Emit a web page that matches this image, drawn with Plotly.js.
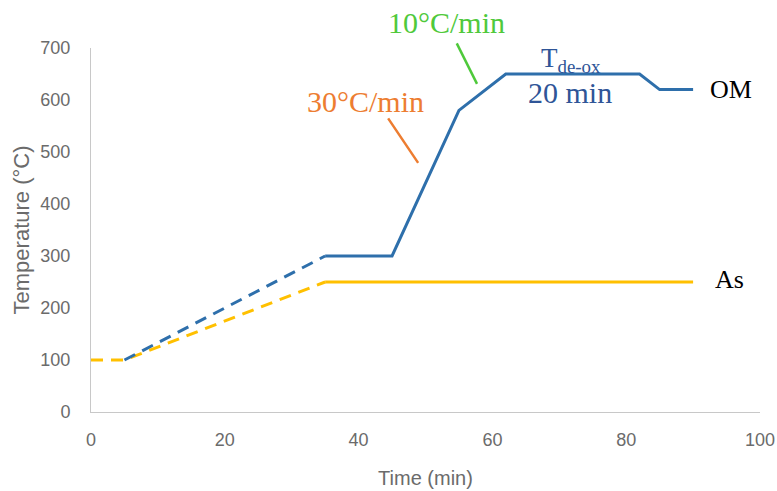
<!DOCTYPE html>
<html>
<head>
<meta charset="utf-8">
<script src="https://cdn.plot.ly/plotly-3.0.1.min.js"></script>
<style>html,body{margin:0;padding:0;background:#fff}#chart{width:777px;height:491px}</style>
</head>
<body>
<div id="chart"></div>
<script>
// Data (time in min, temperature in °C)
const omRampTime = [5, 35];
const omRampTemp = [100, 300];
const omTime = [35, 45, 55, 62, 82, 85, 90];
const omTemp = [300, 300, 580, 650, 650, 620, 620];
const asRampTime = [0, 5, 35];
const asRampTemp = [100, 100, 250];
const asTime = [35, 90];
const asTemp = [250, 250];
const xTicks = [0, 20, 40, 60, 80, 100];
const yTicks = [0, 100, 200, 300, 400, 500, 600, 700];

const blue = '#2e6fab';
const yellow = '#ffc000';

const traces = [
  {x: asRampTime, y: asRampTemp, mode: 'lines', line: {color: yellow, width: 3, dash: '12px,8px'}, hoverinfo: 'skip'},
  {x: omRampTime, y: omRampTemp, mode: 'lines', line: {color: blue, width: 3, dash: '12px,8px'}, hoverinfo: 'skip'},
  {x: asTime, y: asTemp, mode: 'lines', line: {color: yellow, width: 3}, hoverinfo: 'skip'},
  {x: omTime, y: omTemp, mode: 'lines', line: {color: blue, width: 3}, hoverinfo: 'skip'}
];

const serif = 'Liberation Serif, Times New Roman, serif';
const layout = {
  width: 777, height: 491,
  margin: {l: 91, r: 17, t: 48, b: 79},
  paper_bgcolor: '#fff', plot_bgcolor: '#fff',
  showlegend: false,
  font: {family: 'Liberation Sans, Arial, sans-serif', color: '#6b6b6b', size: 18},
  xaxis: {
    range: [0, 100], tickvals: xTicks, showgrid: false, zeroline: false,
    showline: true, linecolor: '#c8c8c8', linewidth: 1, ticks: '',
    ticklabelstandoff: 11,
    title: {text: 'Time (min)', font: {size: 20, color: '#6b6b6b'}, standoff: 22}
  },
  yaxis: {
    range: [0, 700], tickvals: yTicks, showgrid: false, zeroline: false,
    showline: true, linecolor: '#c8c8c8', linewidth: 1, ticks: '',
    ticklabelstandoff: 16,
    title: {text: 'Temperature (°C)', font: {size: 22, color: '#6b6b6b'}, standoff: 4}
  },
  annotations: [
    {x: 48.9, y: 479, ax: -31, ay: -46, showarrow: true, arrowhead: 0, arrowwidth: 2.5, arrowcolor: '#ed7d31', text: ''},
    {x: 57.7, y: 631, ax: -21, ay: -42, showarrow: true, arrowhead: 0, arrowwidth: 2.5, arrowcolor: '#4fc93b', text: ''},
    {x: 41.1, y: 598, text: '30°C/min', showarrow: false, font: {family: serif, size: 30, color: '#ed7d31'}},
    {x: 53.1, y: 1.12, yref: 'paper', text: '10°C/min', showarrow: false, font: {family: serif, size: 30, color: '#4fc93b'}},
    {x: 71.7, y: 676, text: 'T<sub>de-ox</sub>', showarrow: false, font: {family: serif, size: 27, color: '#2f5597'}},
    {x: 71.6, y: 614, text: '20 min', showarrow: false, font: {family: serif, size: 30, color: '#2f5597'}},
    {x: 95.6, y: 620, text: 'OM', showarrow: false, font: {family: serif, size: 26, color: '#000'}},
    {x: 95.4, y: 254, text: 'As', showarrow: false, font: {family: serif, size: 26, color: '#000'}}
  ]
};

Plotly.newPlot('chart', traces, layout, {displayModeBar: false, staticPlot: true});
</script>
</body>
</html>
